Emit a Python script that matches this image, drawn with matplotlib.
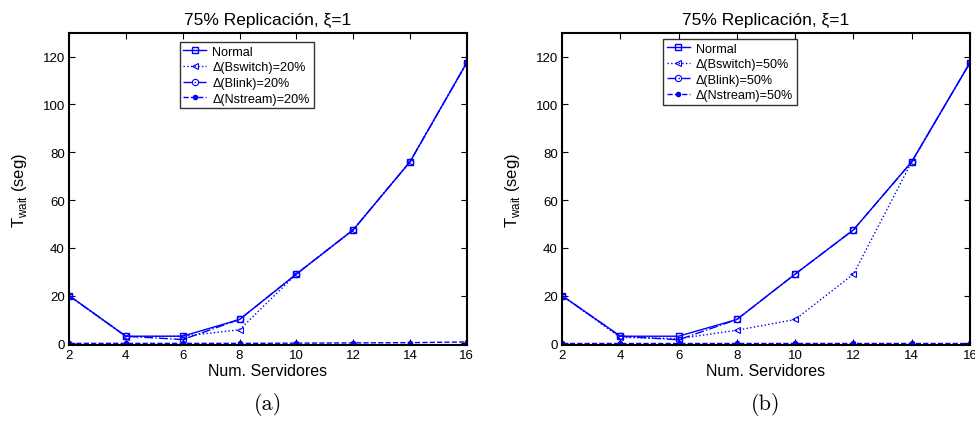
import numpy as np
import matplotlib.pyplot as plt

plt.rcParams['font.family'] = ['Liberation Sans', 'DejaVu Sans']
plt.rcParams['mathtext.fontset'] = 'custom'
plt.rcParams['mathtext.rm'] = 'Liberation Sans'

# Datos
servidores = [2, 4, 6, 8, 10, 12, 14, 16]
normal = [20, 3, 3, 10, 29, 47.5, 76, 117.5]

# (a) Delta = 20%
bswitch_20 = [20, 2.8, 3, 5.7, 29, 47.5, 76, 117.5]
blink_20 = [20, 3, 1.6, 10, 29, 47.5, 76, 117.5]
nstream_20 = [0, 0, 0, 0, 0.1, 0.2, 0.3, 0.6]

# (b) Delta = 50%
bswitch_50 = [20, 2.5, 2, 5.5, 10, 29, 76, 117.5]
blink_50 = [20, 3, 1.5, 10, 29, 47.5, 76, 117.5]
nstream_50 = [0, 0, 0, 0, 0, 0, 0, 0]

paneles = [
    ('(a)', '20%', bswitch_20, blink_20, nstream_20, 0.278, 0.97),
    ('(b)', '50%', bswitch_50, blink_50, nstream_50, 0.2475, 0.98),
]

fig = plt.figure(figsize=(9.75, 4.27), dpi=100)
posiciones = [[0.0708, 0.189, 0.408, 0.732], [0.5764, 0.189, 0.4185, 0.732]]
azul = (0, 0, 1)

for pos, (letra, pct, bsw, blk, nst, lx, ly) in zip(posiciones, paneles):
    ax = fig.add_axes(pos)
    ax.plot(servidores, normal, '-', color=azul, lw=1, marker='s', ms=4.5,
            mfc='none', mew=1, label='Normal')
    ax.plot(servidores, bsw, ':', color=azul, lw=1, marker='<', ms=5,
            mfc='none', mew=0.8, label=u'Δ(Bswitch)=' + pct)
    ax.plot(servidores, blk, '-.', color=azul, lw=1, marker='o', ms=4.5,
            mfc='none', mew=0.8, label=u'Δ(Blink)=' + pct)
    ax.plot(servidores, nst, '--', color=azul, lw=1, marker='.', ms=6,
            label=u'Δ(Nstream)=' + pct)
    ax.set_xlim(2, 16)
    ax.set_ylim(-0.8, 130)
    ax.set_xticks(servidores)
    ax.set_yticks(np.arange(0, 121, 20))
    ax.tick_params(direction='in', top=True, right=True, length=4, width=0.8,
                   labelsize=9.5, pad=3)
    for s in ax.spines.values():
        s.set_linewidth(1.5)
    ax.set_title(u'75% Replicación, ξ=1', fontsize=12.5, pad=6)
    ax.set_xlabel('Num. Servidores', fontsize=11.5, labelpad=1)
    ax.set_ylabel(r'T$_{\mathrm{wait}}$ (seg)', fontsize=12, labelpad=10)
    leg = ax.legend(loc='upper left', bbox_to_anchor=(lx, ly), fontsize=9.1,
                    frameon=True, fancybox=False, edgecolor='black',
                    handlelength=1.8, borderpad=0.3, labelspacing=0.28,
                    handletextpad=0.5, borderaxespad=0)
    leg.get_frame().set_linewidth(1)
    fig.text(pos[0] + pos[2] / 2, 1 - 405 / 427, letra, family='cmr10',
             ha='center', va='center', fontsize=16)

fig.savefig('out.png', dpi=100)
